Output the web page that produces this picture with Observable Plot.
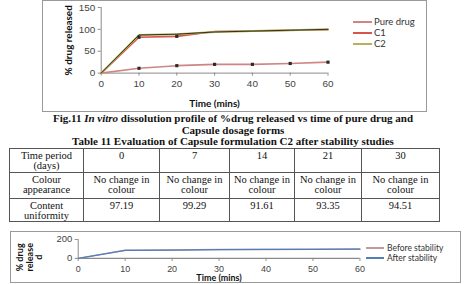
<!DOCTYPE html>
<html>
<head>
<meta charset="utf-8">
<script src="https://cdn.jsdelivr.net/npm/d3@7"></script>
<script src="https://cdn.jsdelivr.net/npm/@observablehq/plot@0.6"></script>
<style>
  html, body { margin: 0; padding: 0; background: #fff; }
  body { width: 466px; height: 284px; position: relative; overflow: hidden; }
  .frame { position: absolute; box-sizing: border-box; border: 1px solid #9a9a9a; overflow: hidden; background: #fff; }
  .frame svg { position: absolute; left: -1px; top: -1px; }
  .legend { position: absolute; font-family: Lato, sans-serif; color: #333; }
  .legend .item { position: absolute; white-space: nowrap; display: flex; align-items: center; }
  .legend .sw { display: inline-block; width: 19px; height: 2px; margin-right: 2px; }
  g[aria-label="y-axis label"] text, g[aria-label="x-axis label"] text { font-family: Lato, sans-serif; font-weight: bold; fill: #111; }
  g[aria-label="y-axis tick label"] text, g[aria-label="x-axis tick label"] text { fill: #444; }
  .caption { position: absolute; left: 0; width: 466px; text-align: center; font-family: "Liberation Serif", "Times New Roman", serif; font-weight: bold; font-size: 11px; line-height: 11.5px; color: #111; }
  table { position: absolute; left: 9px; top: 148px; border-collapse: collapse; table-layout: fixed; font-family: "Liberation Serif", "Times New Roman", serif; font-size: 10.5px; line-height: 10px; color: #111; }
  td { border: 1px solid #555; text-align: center; vertical-align: top; padding: 2px 1px 0 1px; }
  .ylab2 { position: absolute; font-family: Lato, sans-serif; font-weight: bold; font-size: 9px; line-height: 9.5px; text-align: center; color: #111; transform: rotate(-90deg); transform-origin: center center; white-space: nowrap; }
</style>
</head>
<body>
<div class="frame" id="top" style="left:42px; top:0px; width:385px; height:112px;"></div>
<div class="caption" style="top:113px;">Fig.11 <i>In vitro</i> dissolution profile of %drug released vs time of pure drug and<br>Capsule dosage forms<br>Table 11 Evaluation of Capsule formulation C2 after stability studies</div>
<table id="tbl"></table>
<div class="frame" id="bottom" style="left:10px; top:231px; width:451px; height:52px;"></div>
<script>
// Dissolution profile: % drug released at each sampling time (mins)
const times = [0, 10, 20, 30, 40, 50, 60];
const pureDrug = [0, 11, 17, 20, 20, 22, 25];
const c1 = [0, 82, 84, 95, 96, 98, 99];
const c2 = [0, 87, 89, 94, 96, 98, 100];
const yTicksTop = [0, 50, 100, 150];
const seriesNames = ["Pure drug", "C1", "C2"];
const seriesColors = ["#cf8585", "#d9534f", "#b3b35f"];
// sampling times where C1 carries an error marker
const c1Marked = [10, 20];

// Stability study of C2
const stabilityDays = ["0", "7", "14", "21", "30"];
const colourAppearance = ["No change in colour", "No change in colour", "No change in colour", "No change in colour", "No change in colour"];
const contentUniformity = [97.19, 99.29, 91.61, 93.35, 94.51];

// Dissolution of C2 before / after stability
const beforeStability = [0, 86, 89, 94, 95, 97, 98];
const afterStability = [0, 85, 88, 93, 95, 96, 97];
const yTicksBottom = [0, 200];
const stabilityNames = ["Before stability", "After stability"];
const stabilityColors = ["#c49a9a", "#4f7fbb"];

const toRows = (vals, name) => times.map((t, i) => ({time: t, value: vals[i], series: name}));

// ---- top chart ----
const pureRows = toRows(pureDrug, seriesNames[0]);
const c1Rows = toRows(c1, seriesNames[1]);
const c2Rows = toRows(c2, seriesNames[2]);
const markerRows = [
  ...pureRows.filter(d => d.time > 0),
  ...c1Rows.filter(d => c1Marked.includes(d.time))
];

const topPlot = Plot.plot({
  width: 385, height: 112,
  marginLeft: 59, marginRight: 98, marginTop: 7, marginBottom: 39,
  style: {fontFamily: "'Liberation Sans', Arial, sans-serif", fontSize: "10px", background: "transparent"},
  x: {domain: [0, 60]},
  y: {domain: [0, 150]},
  marks: [
    Plot.ruleX([0], {stroke: "#8a8a8a"}),
    Plot.ruleY([0], {stroke: "#8a8a8a"}),
    Plot.axisY({ticks: yTicksTop, tickSize: 3, tickPadding: 3, stroke: "#8a8a8a", label: "% drug released", labelAnchor: "center", labelArrow: "none", labelOffset: 36, fontSize: 10}),
    Plot.axisX({ticks: times, tickSize: 3, tickPadding: 4, stroke: "#8a8a8a", label: "Time (mins)", labelAnchor: "center", labelArrow: "none", labelOffset: 34, fontSize: 10}),
    Plot.line(pureRows, {x: "time", y: "value", stroke: seriesColors[0], strokeWidth: 1.6}),
    Plot.line(c1Rows, {x: "time", y: "value", stroke: seriesColors[1], strokeWidth: 1.6}),
    Plot.line(c2Rows, {x: "time", y: "value", stroke: seriesColors[2], strokeWidth: 2}),
    Plot.line(c2Rows, {x: "time", y: "value", stroke: "#1a1a10", strokeWidth: 1, strokeOpacity: 0.85}),
    Plot.dot(markerRows, {x: "time", y: "value", symbol: "square", r: 1.8, fill: "#2a2a2a"})
  ]
});
document.getElementById("top").appendChild(topPlot);

// legend for the top chart
const topLegend = document.createElement("div");
topLegend.className = "legend";
topLegend.style.cssText = "left:310px; top:15px; font-size:9.5px;";
seriesNames.forEach((name, i) => {
  const it = document.createElement("div");
  it.className = "item";
  it.style.top = (i * 11) + "px";
  it.innerHTML = `<span class="sw" style="background:${seriesColors[i]}"></span>${name}`;
  topLegend.appendChild(it);
});
document.getElementById("top").appendChild(topLegend);

// ---- table ----
const tbl = document.getElementById("tbl");
const colWidths = [74, 76, 70, 65, 67, 78];
const cg = document.createElement("colgroup");
colWidths.forEach(w => { const c = document.createElement("col"); c.style.width = w + "px"; cg.appendChild(c); });
tbl.appendChild(cg);
const rowsSpec = [
  {head: "Time period<br>(days)", cells: stabilityDays, h: 24},
  {head: "Colour<br>appearance", cells: colourAppearance.map(s => s.replace(" colour", "<br>colour")), h: 26},
  {head: "Content<br>uniformity", cells: contentUniformity.map(v => v.toFixed(2)), h: 22}
];
rowsSpec.forEach(r => {
  const tr = document.createElement("tr");
  tr.style.height = r.h + "px";
  tr.innerHTML = `<td>${r.head}</td>` + r.cells.map(c => `<td>${c}</td>`).join("");
  tbl.appendChild(tr);
});

// ---- bottom chart ----
const beforeRows = toRows(beforeStability, stabilityNames[0]);
const afterRows = toRows(afterStability, stabilityNames[1]);
const bottomPlot = Plot.plot({
  width: 451, height: 52,
  marginLeft: 68, marginRight: 100, marginTop: 8, marginBottom: 25,
  style: {fontFamily: "'Liberation Sans', Arial, sans-serif", fontSize: "9.5px", background: "transparent"},
  x: {domain: [0, 60]},
  y: {domain: [0, 200]},
  marks: [
    Plot.ruleX([0], {stroke: "#8a8a8a"}),
    Plot.ruleY([0], {stroke: "#8a8a8a", strokeWidth: 1.5}),
    Plot.axisY({ticks: yTicksBottom, tickSize: 3, tickPadding: 3, stroke: "#8a8a8a", label: null, fontSize: 9.5}),
    Plot.axisX({ticks: times, tickSize: 3, tickPadding: 4, stroke: "#8a8a8a", label: "Time (mins)", labelAnchor: "center", labelArrow: "none", labelOffset: 23, fontSize: 9}),
    Plot.line(beforeRows, {x: "time", y: "value", stroke: stabilityColors[0], strokeWidth: 1.5}),
    Plot.line(afterRows, {x: "time", y: "value", stroke: stabilityColors[1], strokeWidth: 1.2})
  ]
});
document.getElementById("bottom").appendChild(bottomPlot);

const ylab = document.createElement("div");
ylab.className = "ylab2";
ylab.innerHTML = "% drug<br>release<br>d";
ylab.style.cssText = "left:-2px; top:11px; width:40px;";
document.getElementById("bottom").appendChild(ylab);

const botLegend = document.createElement("div");
botLegend.className = "legend";
botLegend.style.cssText = "left:355px; top:11px; font-size:8.5px;";
stabilityNames.forEach((name, i) => {
  const it = document.createElement("div");
  it.className = "item";
  it.style.top = (i * 10) + "px";
  it.innerHTML = `<span class="sw" style="background:${stabilityColors[i]}; width:18px; margin-right:3px"></span>${name}`;
  botLegend.appendChild(it);
});
document.getElementById("bottom").appendChild(botLegend);
</script>
</body>
</html>
